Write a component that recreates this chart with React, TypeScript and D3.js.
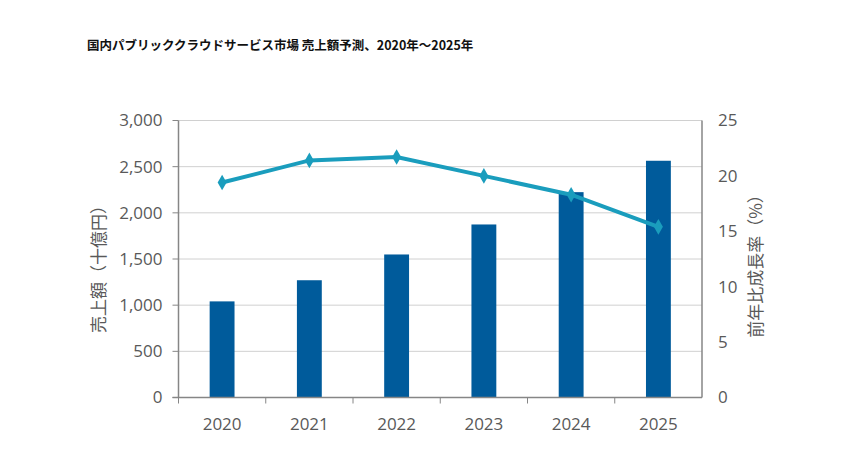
import React from "react";
import * as d3 from "d3";

const categories = ["2020", "2021", "2022", "2023", "2024", "2025"];
const salesValues = [1041, 1270, 1549, 1874, 2224, 2564];
const growthValues = [19.4, 21.4, 21.7, 20.0, 18.3, 15.4];
const leftTicks = [0, 500, 1000, 1500, 2000, 2500, 3000];
const rightTicks = [0, 5, 10, 15, 20, 25];
const title = "国内パブリッククラウドサービス市場 売上額予測、2020年～2025年";
const leftTitle = "売上額（十億円）";
const rightTitle = "前年比成長率（%）";

const W = 850;
const H = 470;
const m = { left: 178.5, right: 702, top: 120.5, bottom: 397.5 };
const font = "'Open Sans', 'Noto Sans CJK JP', sans-serif";

export default function App() {
  const x = d3.scaleBand<string>().domain(categories).range([m.left, m.right]).paddingInner(0.715).paddingOuter(0.357);
  const xb = d3.scaleBand<string>().domain(categories).range([m.left, m.right]);
  const yL = d3.scaleLinear().domain([0, 3000]).range([m.bottom, m.top]);
  const yR = d3.scaleLinear().domain([0, 25]).range([m.bottom, m.top]);
  const line = d3
    .line<number>()
    .x((_, i) => (xb(categories[i]) as number) + xb.bandwidth() / 2)
    .y((d) => yR(d));
  const diamond = d3.symbol().type(d3.symbolDiamond).size(70)();
  const fmt = d3.format(",");
  const axisColor = "#868686";
  const textColor = "#595959";

  return (
    <svg width={W} height={H} style={{ position: "absolute", left: 0, top: 0, background: "#fff" }}>
      <text x={87} y={50} fontFamily="'Noto Sans CJK JP', sans-serif" fontWeight="bold" fontSize={12.5} fill="#111">
        {title}
      </text>
      {leftTicks.map((t) => (
        <g key={t}>
          {t > 0 && <line x1={m.left} x2={m.right} y1={yL(t)} y2={yL(t)} stroke="#d0d0d0" strokeWidth={1} />}
          <line x1={m.left - 6} x2={m.left} y1={yL(t)} y2={yL(t)} stroke={axisColor} />
          <text x={m.left - 16} y={yL(t)} dy="0.35em" textAnchor="end" fontFamily={font} fontSize={17} fill={textColor}>
            {fmt(t)}
          </text>
        </g>
      ))}
      {rightTicks.map((t) => (
        <text key={t} x={m.right + 16} y={yR(t)} dy="0.35em" textAnchor="start" fontFamily={font} fontSize={17} fill={textColor}>
          {t}
        </text>
      ))}
      {salesValues.map((v, i) => (
        <rect
          key={categories[i]}
          x={x(categories[i])}
          width={x.bandwidth()}
          y={yL(v)}
          height={yL(0) - yL(v)}
          fill="#005b9b"
        />
      ))}
      <line x1={m.left} x2={m.left} y1={m.top} y2={m.bottom} stroke={axisColor} strokeWidth={1.5} />
      <line x1={m.right} x2={m.right} y1={m.top} y2={m.bottom} stroke={axisColor} strokeWidth={1.5} />
      <line x1={m.left - 6} x2={m.right} y1={m.bottom} y2={m.bottom} stroke={axisColor} strokeWidth={1.5} />
      {categories.map((c) => (
        <g key={c}>
          <line x1={xb(c)} x2={xb(c)} y1={m.bottom} y2={m.bottom + 6} stroke={axisColor} />
          <text
            x={(xb(c) as number) + xb.bandwidth() / 2}
            y={m.bottom + 32}
            textAnchor="middle"
            fontFamily={font}
            fontSize={17}
            fill={textColor}
          >
            {c}
          </text>
        </g>
      ))}
      <path d={line(growthValues) || ""} fill="none" stroke="#1a9dbd" strokeWidth={4} />
      {growthValues.map((v, i) => (
        <path
          key={i}
          d={diamond || ""}
          transform={`translate(${(xb(categories[i]) as number) + xb.bandwidth() / 2},${yR(v)})`}
          fill="#1a9dbd"
        />
      ))}
      <text
        transform="translate(104.5,265) rotate(-90)"
        textAnchor="middle"
        fontFamily="'Noto Sans CJK JP', sans-serif"
        fontSize={17}
        fill={textColor}
      >
        {leftTitle}
      </text>
      <text
        transform="translate(761.5,262) rotate(-90)"
        textAnchor="middle"
        fontFamily="'Noto Sans CJK JP', sans-serif"
        fontSize={17}
        fill={textColor}
      >
        {rightTitle}
      </text>
    </svg>
  );
}
